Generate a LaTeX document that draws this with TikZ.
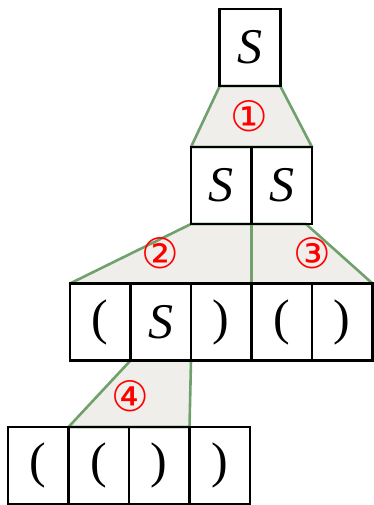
\documentclass[tikz,border=0pt]{standalone}
\usepackage{fontspec}
\setmainfont{Liberation Serif}
\newfontfamily\numfont{DejaVu Sans}
\usepackage{tikz}
\usetikzlibrary{positioning,calc,backgrounds}

\definecolor{rulegreen}{RGB}{112,160,108}
\definecolor{rulefill}{RGB}{239,238,234}
\definecolor{numred}{RGB}{255,0,0}

\begin{document}
\begin{tikzpicture}[
	x=1pt, y=-1pt,
	node distance=0pt,
	cell/.style={rectangle, draw, line width=2.8pt, minimum width=60.5pt, minimum height=77pt, inner sep=0pt, outer sep=0pt, font=\fontsize{50}{50}\selectfont},
	rule/.style={draw=rulegreen, fill=rulefill, line width=2.6pt, line join=round},
	numlabel/.style={text=numred, font=\numfont\fontsize{42}{42}\selectfont, inner sep=0pt}
]
\useasboundingbox (0,0) rectangle (373,505);

% rows of symbols, top to bottom
\node[cell] (top) at (250,47.5) {\itshape S};

\node[cell] (ssa) at (221.25,185.5) {\itshape S};
\node[cell, right=of ssa] (ssb) {\itshape S};

\node[cell] (ra) at (100.25,322) {(};
\node[cell, right=of ra] (rb) {\itshape S};
\node[cell, right=of rb] (rc) {)};
\node[cell, right=of rc] (rd) {(};
\node[cell, right=of rd] (re) {)};

\node[cell] (ta) at (38.25,465.5) {(};
\node[cell, right=of ta] (tb) {(};
\node[cell, right=of tb] (tc) {)};
\node[cell, right=of tc] (td) {)};

% rule applications
\begin{scope}[on background layer]
\draw[rule] (top.south west) -- (top.south east) -- (ssb.north east) -- (ssa.north west) -- cycle;
\draw[rule] (ssa.south west) -- (ssa.south east) -- (rc.north east) -- (ra.north west) -- cycle;
\draw[rule] (ssb.south west) -- ($(ssb.south east)+(-6,0)$) -- (re.north east) -- (rd.north west) -- cycle;
\draw[rule] (rb.south west) -- (rb.south east) -- (tc.north east) -- (tb.north west) -- cycle;
\end{scope}

\node[numlabel] (n1) at (249,116) {①};
\node[numlabel] (n2) at (160,253) {②};
\node[numlabel] (n3) at (312,253) {③};
\node[numlabel] (n4) at (130,396) {④};
\end{tikzpicture}
\end{document}
